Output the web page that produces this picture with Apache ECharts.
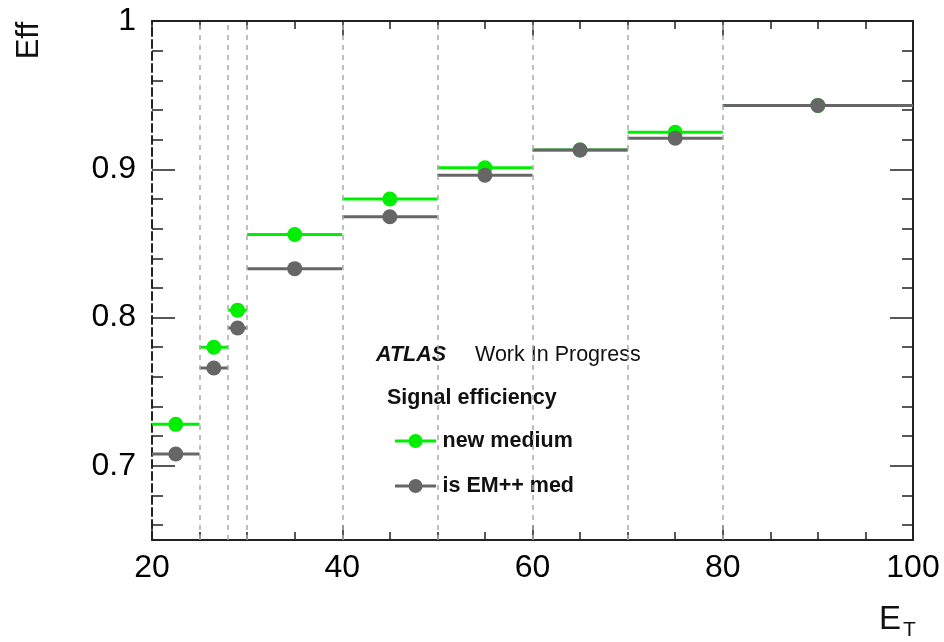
<!DOCTYPE html>
<html><head><meta charset="utf-8">
<script src="https://cdn.jsdelivr.net/npm/echarts@6/dist/echarts.min.js"></script>
<style>html,body{margin:0;padding:0;background:#fff}#c{width:944px;height:642px}</style>
</head><body><div id="c"></div>
<script>
// ---- data ----
const binLow    = [20, 25, 28, 30, 40, 50, 60, 70, 80];
const binHigh   = [25, 28, 30, 40, 50, 60, 70, 80, 100];
const binCenter = [22.5, 26.5, 29, 35, 45, 55, 65, 75, 90];
const newMedium = [0.728, 0.780, 0.805, 0.856, 0.880, 0.901, 0.913, 0.925, 0.943];
const isEMMed   = [0.708, 0.766, 0.793, 0.833, 0.868, 0.896, 0.913, 0.921, 0.943];
const gridEdges = [25, 28, 30, 40, 50, 60, 70, 80];
const yMajorTicks = [0.7, 0.8, 0.9, 1.0];
const yMinorTicks = [0.66, 0.68, 0.72, 0.74, 0.76, 0.78, 0.82, 0.84, 0.86, 0.88, 0.92, 0.94, 0.96, 0.98];
const seriesNames = ['new medium', 'is EM++ med'];

const FONT = '"Liberation Sans", Arial, Helvetica, sans-serif';
const GREEN = '#00ee00';
const GRAY = '#666666';
const AX = '#222222';

function rows(vals) {
  return binLow.map((l, i) => [l, binHigh[i], vals[i], binCenter[i]]);
}
function renderer(color) {
  return function (params, api) {
    const y = api.value(2);
    const a = api.coord([api.value(0), y]);
    const b = api.coord([api.value(1), y]);
    const c = api.coord([api.value(3), y]);
    return {
      type: 'group',
      children: [
        { type: 'line', shape: { x1: a[0], y1: a[1], x2: b[0], y2: b[1] }, style: { stroke: color, lineWidth: 3 } },
        { type: 'circle', shape: { cx: c[0], cy: c[1], r: 7.5 }, style: { fill: color } }
      ]
    };
  };
}

const xCommon = {
  type: 'value', min: 20, max: 100, interval: 20,
  axisLine: { show: true, onZero: false, lineStyle: { color: AX, width: 2 } },
  axisTick: { show: true, inside: true, length: 15, lineStyle: { color: AX, width: 1.5 } },
  minorTick: { show: true, splitNumber: 4, length: 8, lineStyle: { color: AX, width: 1.5 } },
  splitLine: { show: false }, minorSplitLine: { show: false }
};
const yCommon = {
  type: 'value', min: 0.65, max: 1.0,
  splitLine: { show: false }
};
const fmt = v => String(+(+v).toFixed(2));

const option = {
  backgroundColor: '#fff',
  animation: false,
  grid: { left: 152, right: 31, top: 21, bottom: 102, containLabel: false, outerBoundsMode: 'none' },
  xAxis: [
    Object.assign({}, xCommon, {
      position: 'bottom',
      axisLabel: { show: true, margin: 12, fontSize: 32, fontFamily: FONT, color: '#000' }
    }),
    Object.assign({}, xCommon, {
      position: 'top',
      axisLabel: { show: false }
    })
  ],
  yAxis: [
    Object.assign({}, yCommon, {
      position: 'left',
      axisLine: { show: true, onZero: false, lineStyle: { color: AX, width: 2, type: [8, 4] } },
      axisTick: { show: true, inside: true, length: 23, customValues: yMajorTicks, lineStyle: { color: AX, width: 1.5 } },
      axisLabel: { show: true, margin: 16, fontSize: 32, fontFamily: FONT, color: '#000', customValues: yMajorTicks, formatter: fmt }
    }),
    Object.assign({}, yCommon, {
      position: 'left',
      axisLine: { show: false },
      axisTick: { show: true, inside: true, length: 11, customValues: yMinorTicks, lineStyle: { color: AX, width: 1.5 } },
      axisLabel: { show: false, customValues: yMinorTicks }
    }),
    Object.assign({}, yCommon, {
      position: 'right',
      axisLine: { show: true, onZero: false, lineStyle: { color: AX, width: 2 } },
      axisTick: { show: true, inside: true, length: 23, customValues: yMajorTicks, lineStyle: { color: AX, width: 1.5 } },
      axisLabel: { show: false, customValues: yMajorTicks }
    }),
    Object.assign({}, yCommon, {
      position: 'right',
      axisLine: { show: false },
      axisTick: { show: true, inside: true, length: 11, customValues: yMinorTicks, lineStyle: { color: AX, width: 1.5 } },
      axisLabel: { show: false, customValues: yMinorTicks }
    })
  ],
  legend: {
    orient: 'vertical', left: 390, top: 425,
    itemWidth: 44, itemHeight: 14, itemGap: 23, itemTextGap: 11,
    icon: 'path://M0,5.5L44,5.5L44,8.5L0,8.5Z M14.5,7A7.5,7.5 0 1 1 29.5,7A7.5,7.5 0 1 1 14.5,7Z',
    textStyle: { fontFamily: FONT, fontWeight: 'bold', fontSize: 21.5, color: '#111' },
    data: seriesNames
  },
  series: [
    {
      name: seriesNames[0], type: 'custom', xAxisIndex: 0, yAxisIndex: 0,
      itemStyle: { color: GREEN },
      encode: { x: [0, 1, 3], y: 2 },
      renderItem: renderer(GREEN),
      data: rows(newMedium),
      z: 3,
      markLine: {
        silent: true, symbol: 'none', label: { show: false },
        lineStyle: { color: '#aaaaaa', width: 1.5, type: [5, 5] },
        data: gridEdges.map(v => ({ xAxis: v }))
      }
    },
    {
      name: seriesNames[1], type: 'custom', xAxisIndex: 0, yAxisIndex: 0,
      itemStyle: { color: GRAY },
      encode: { x: [0, 1, 3], y: 2 },
      renderItem: renderer(GRAY),
      data: rows(isEMMed),
      z: 4
    }
  ],
  graphic: [
    { type: 'text', left: 376, top: 344, style: { text: 'ATLAS', font: 'italic bold 21.5px ' + FONT, fill: '#111' } },
    { type: 'text', left: 475, top: 344, style: { text: 'Work In Progress', font: '21.5px ' + FONT, fill: '#111' } },
    { type: 'text', left: 387, top: 387, style: { text: 'Signal efficiency', font: 'bold 21.5px ' + FONT, fill: '#111' } },
    { type: 'text', x: 45, y: 22, rotation: Math.PI / 2,
      style: { text: 'Eff', font: '31px ' + FONT, fill: '#111', align: 'right', verticalAlign: 'bottom', textAlign: 'right', textVerticalAlign: 'bottom' } },
    { type: 'text', left: 879, top: 603, style: { text: 'E', font: '33px ' + FONT, fill: '#111' } },
    { type: 'text', left: 903, top: 620, style: { text: 'T', font: '21px ' + FONT, fill: '#111' } }
  ]
};

const chart = echarts.init(document.getElementById('c'), null, { renderer: 'canvas' });
chart.setOption(option);
</script>
</body></html>
